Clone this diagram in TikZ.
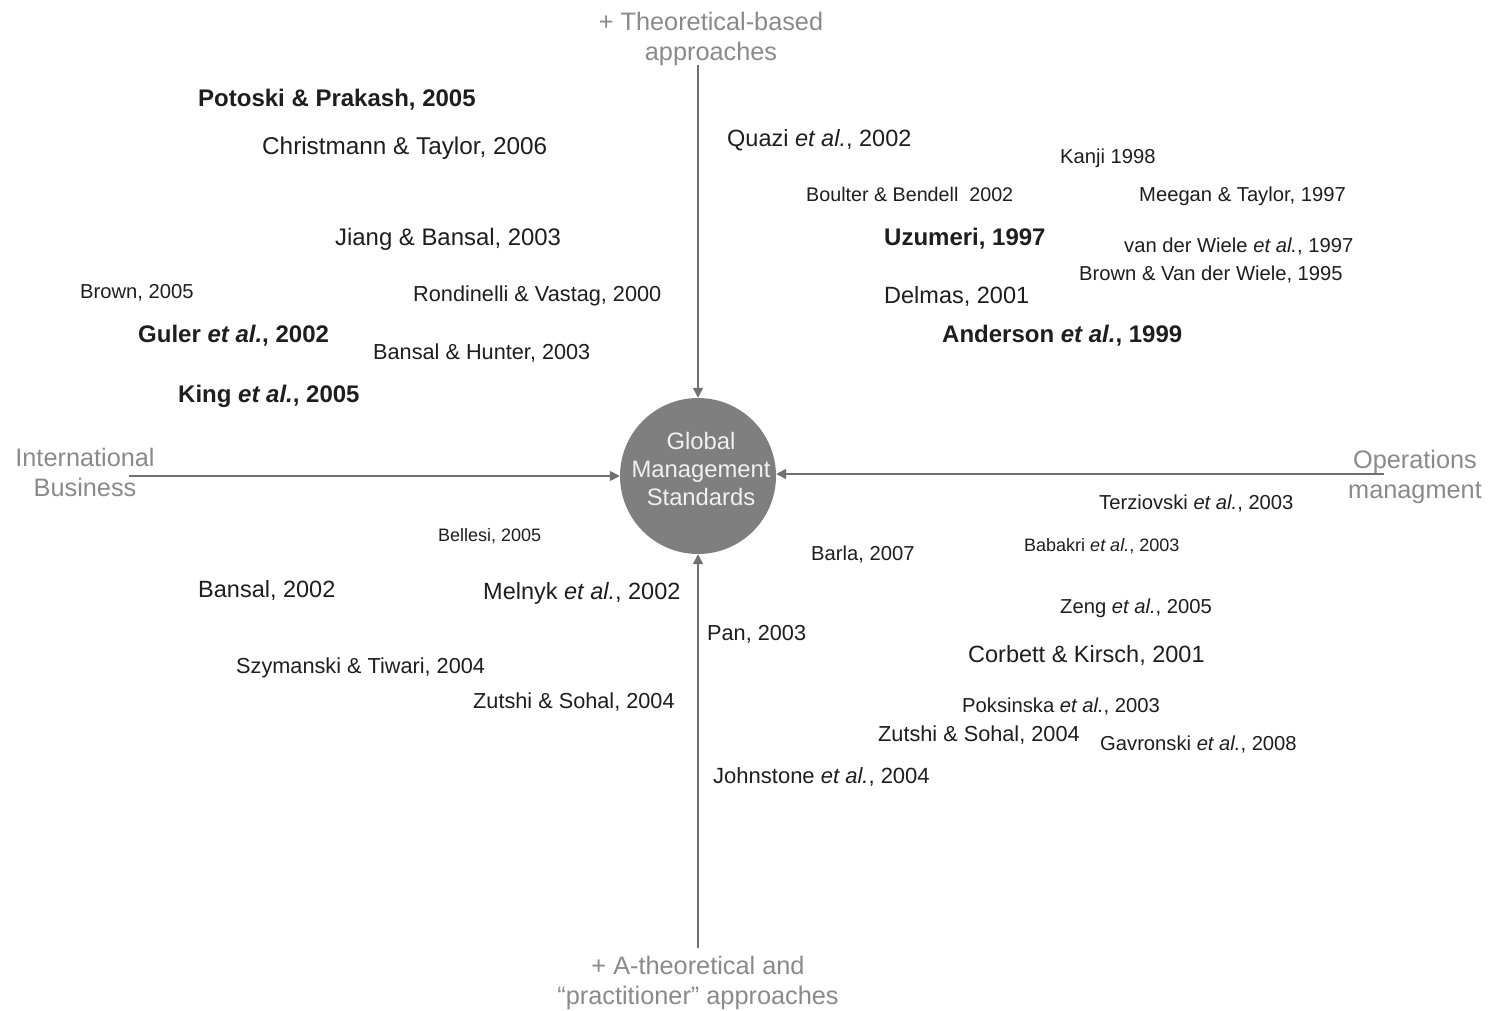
\documentclass[tikz,border=0pt]{standalone}
\usepackage{fontspec}
\setmainfont{Liberation Sans}
\usetikzlibrary{arrows.meta}
\definecolor{reftext}{HTML}{1E1E1E}
\definecolor{axistext}{HTML}{8A8A8A}
\definecolor{axisline}{HTML}{707070}
\definecolor{hubfill}{HTML}{7F7F7F}
\tikzset{
  refbase/.style={inner sep=0pt, anchor=west, text=reftext, text depth=0pt},
  rbig/.style={refbase, font=\fontsize{23.5}{28}\selectfont, text height=17pt},
  rbold/.style={refbase, font=\fontsize{24}{28}\selectfont\bfseries, text height=17pt},
  rmid/.style={refbase, font=\fontsize{21.7}{26}\selectfont, text height=15.6pt},
  rsmall/.style={refbase, font=\fontsize{20.2}{24}\selectfont, text height=14.5pt},
  rtiny/.style={refbase, font=\fontsize{18}{22}\selectfont, text height=13pt},
  axislabel/.style={inner sep=0pt, align=center, text=axistext, font=\fontsize{25.3}{30}\selectfont},
  axisarrow/.style={draw=axisline, line width=1.6pt, -{Triangle[width=10pt,length=10pt]}},
  hub/.style={circle, fill=hubfill, minimum size=156pt, inner sep=0pt},
  hubtext/.style={inner sep=0pt, align=center, text=white!94!black, font=\fontsize{23.8}{28}\selectfont}
}
\newcommand{\etal}{\textit{et al.}}
\begin{document}
\begin{tikzpicture}[x=1pt,y=-1pt]
\useasboundingbox[fill=white] (0,0) rectangle (1490,1010);

% hub
\node[hub] (gms) at (698,476) {};
\node[hubtext] (gmstext) at (701,469) {Global\\Management\\Standards};

% axis labels
\node[axislabel] (top) at (711,39) {+ Theoretical-based\\approaches};
\node[axislabel] (bottom) at (698,983) {+ A-theoretical and\\``practitioner'' approaches};
\node[axislabel] (left) at (85,472.5) {International\\Business};
\node[axislabel] (right) at (1415,476.5) {Operations\\managment};

% arrow start points
\coordinate (topstart) at (698,65);
\coordinate (botstart) at (698,948);
\coordinate (leftstart) at (129,476);
\coordinate (rightstart) at (1384,474);

\draw[axisarrow] (topstart) -- (gms.north);
\draw[axisarrow] (botstart) -- (gms.south);
\draw[axisarrow] (leftstart) -- (gms.west);
\draw[axisarrow] (rightstart) -- (gms.east |- rightstart);

% upper left quadrant
\node[rbold] (potoski) at (198,98) {Potoski \& Prakash, 2005};
\node[rbig, font=\fontsize{24.3}{28}\selectfont] (christmann) at (262,146) {Christmann \& Taylor, 2006};
\node[rbig, font=\fontsize{23.9}{28}\selectfont] (jiang) at (335,237) {Jiang \& Bansal, 2003};
\node[rsmall] (brown05) at (80,291) {Brown, 2005};
\node[rmid] (rondinelli) at (413,294) {Rondinelli \& Vastag, 2000};
\node[rbold] (guler) at (138,334) {Guler \etal, 2002};
\node[rmid] (bansalhunter) at (373,352) {Bansal \& Hunter, 2003};
\node[rbold] (king) at (178,394) {King \etal, 2005};

% upper right quadrant
\node[rbig] (quazi) at (727,138) {Quazi \etal, 2002};
\node[rsmall] (kanji) at (1060,156) {Kanji 1998};
\node[rsmall, font=\fontsize{19.7}{24}\selectfont] (boulter) at (806,194) {Boulter \& Bendell\ \ 2002};
\node[rsmall] (meegan) at (1139,194) {Meegan \& Taylor, 1997};
\node[rbold] (uzumeri) at (884,237) {Uzumeri, 1997};
\node[rsmall] (vanderwiele) at (1124,245) {van der Wiele \etal, 1997};
\node[rsmall] (brownvdw) at (1079,273) {Brown \& Van der Wiele, 1995};
\node[rbig] (delmas) at (884,295) {Delmas, 2001};
\node[rbold] (anderson) at (942,334) {Anderson \etal, 1999};

% lower left quadrant
\node[rtiny] (bellesi) at (438,535) {Bellesi, 2005};
\node[rbig] (bansal02) at (198,589) {Bansal, 2002};
\node[rbig] (melnyk) at (483,591) {Melnyk \etal, 2002};
\node[rmid] (szymanski) at (236,666) {Szymanski \& Tiwari, 2004};
\node[rmid] (zutshiL) at (473,701) {Zutshi \& Sohal, 2004};

% lower right quadrant
\node[rsmall] (terziovski) at (1099,502) {Terziovski \etal, 2003};
\node[rtiny] (babakri) at (1024,545) {Babakri \etal, 2003};
\node[rsmall] (barla) at (811,553) {Barla, 2007};
\node[rsmall] (zeng) at (1060,606) {Zeng \etal, 2005};
\node[rmid] (pan) at (707,633) {Pan, 2003};
\node[rbig] (corbett) at (968,654) {Corbett \& Kirsch, 2001};
\node[rsmall] (poksinska) at (962,705) {Poksinska \etal, 2003};
\node[rmid] (zutshiR) at (878,734) {Zutshi \& Sohal, 2004};
\node[rsmall] (gavronski) at (1100,743) {Gavronski \etal, 2008};
\node[rmid, font=\fontsize{22}{26}\selectfont] (johnstone) at (713,776) {Johnstone \etal, 2004};
\end{tikzpicture}
\end{document}
